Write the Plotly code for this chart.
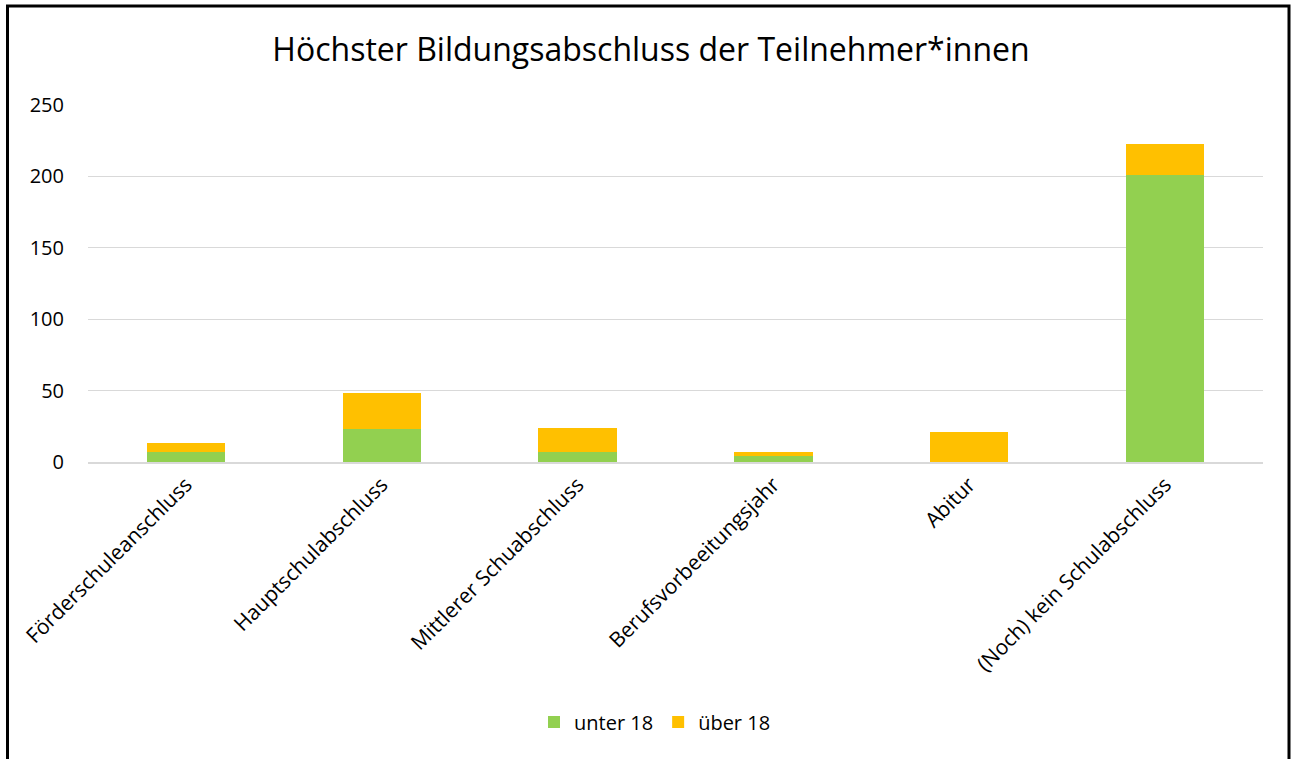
import plotly.graph_objects as go

categories = ["Förderschuleanschluss", "Hauptschulabschluss", "Mittlerer Schuabschluss",
              "Berufsvorbeeitungsjahr", "Abitur", "(Noch) kein Schulabschluss"]
unter_18 = [7, 23, 7, 4, 0, 201]
ueber_18 = [6, 25, 17, 3, 21, 22]
y_ticks = [0, 50, 100, 150, 200, 250]

FONT = "Open Sans"
W, H = 1293, 759
L, R, T, B = 88, 30, 105, 297
pw, ph = W - L - R, H - T - B

fig = go.Figure()
fig.add_trace(go.Bar(x=categories, y=unter_18, name="unter 18", marker_color="#92d050",
                     marker_line_width=0))
fig.add_trace(go.Bar(x=categories, y=ueber_18, name="über 18", marker_color="#ffc000",
                     marker_line_width=0))

def px_x(p):
    return (p - L) / pw

def px_y(p):
    return (H - B - p) / ph

fig.add_shape(type="rect", xref="paper", yref="paper",
              x0=px_x(7.5), x1=px_x(1289), y0=px_y(6), y1=px_y(770),
              line=dict(color="black", width=3), fillcolor="rgba(0,0,0,0)", layer="above")

fig.update_layout(
    width=W, height=H,
    barmode="stack", bargap=0.6,
    margin=dict(l=L, r=R, t=T, b=B, autoexpand=False),
    paper_bgcolor="white", plot_bgcolor="white",
    font=dict(family=FONT, color="black", size=20),
    title=dict(text="Höchster Bildungsabschluss der Teilnehmer*innen",
               x=651 / W, xanchor="center", xref="container", y=1 - 50 / H, yanchor="middle",
               font=dict(family=FONT, size=32, color="black")),
    legend=dict(orientation="h", xref="container", x=655 / W, xanchor="center",
                y=px_y(722), yanchor="middle", font=dict(size=20), traceorder="normal"),
    xaxis=dict(tickangle=-45, showgrid=False, showline=True, linecolor="#d9d9d9", linewidth=2,
               ticks="", tickfont=dict(size=21)),
    yaxis=dict(range=[0, 250], tickvals=y_ticks, showgrid=True, gridcolor="#d9d9d9",
               gridwidth=1, zeroline=False, showline=False, ticks="", ticklabelstandoff=23,
               tickfont=dict(size=20)),
)

fig.write_html("out.html", config={"displayModeBar": False},
               post_script="document.body.style.margin='0';document.body.style.overflow='hidden';")
